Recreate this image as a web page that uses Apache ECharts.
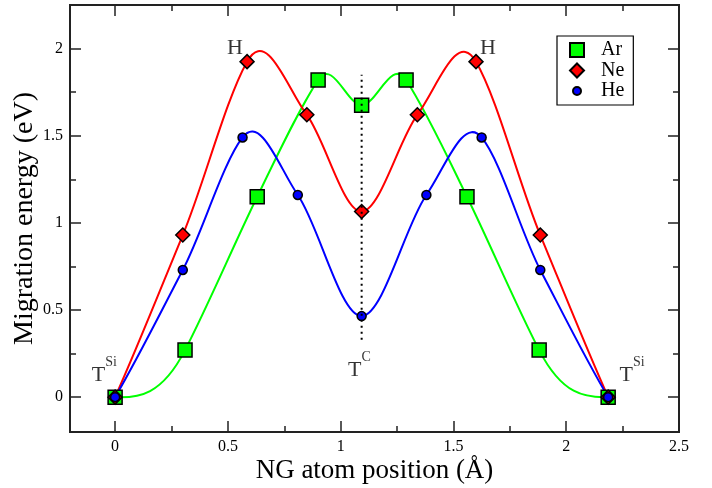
<!DOCTYPE html>
<html>
<head>
<meta charset="utf-8">
<script src="https://cdn.jsdelivr.net/npm/echarts@6/dist/echarts.min.js"></script>
<style>
  html, body { margin: 0; padding: 0; background: #fff; }
  #chart { width: 712px; height: 488px; }
</style>
</head>
<body>
<div id="chart"></div>
<script>
// migration path data, position in Å, energy in eV
const arX = [0, 0.31, 0.63, 0.90, 1.093, 1.29, 1.56, 1.88, 2.186];
const arY = [0, 0.27, 1.15, 1.82, 1.675, 1.82, 1.15, 0.27, 0];
const neX = [0, 0.30, 0.585, 0.85, 1.093, 1.34, 1.60, 1.885, 2.186];
const neY = [0, 0.93, 1.925, 1.62, 1.065, 1.62, 1.925, 0.93, 0];
const heX = [0, 0.30, 0.565, 0.81, 1.093, 1.38, 1.625, 1.885, 2.186];
const heY = [0, 0.73, 1.49, 1.16, 0.465, 1.16, 1.49, 0.73, 0];

// dotted guide through the T^C site
const tcX = [1.093, 1.093];
const tcY = [0.33, 1.85];

// site labels
const siteText = ["{b|H}", "{b|H}", "{t|T}{s|Si}", "{t|T}{s|Si}", "{t|T}{s|C}"];
const siteX = [0.531, 1.653, -0.048, 2.292, 1.083];
const siteY = [2.002, 2.002, 0.151, 0.151, 0.18];

// ticks
const xMajor = [0, 0.5, 1, 1.5, 2, 2.5];
const xMinor = [0.25, 0.75, 1.25, 1.75, 2.25];
const yMajor = [0, 0.5, 1, 1.5, 2];
const yMinor = [0.25, 0.75, 1.25, 1.75];

const font = "'Liberation Serif', 'Times New Roman', serif";
const zip = (xs, ys) => xs.map((x, i) => [x, ys[i]]);

const chart = echarts.init(document.getElementById("chart"));

// one helper for the plain tick axes (top/right mirrors and minor ticks)
const tickAxis = (position, min, max, ticks, len, labels) => ({
  type: "value",
  position: position,
  min: min,
  max: max,
  splitLine: { show: false },
  axisLine: { show: false, onZero: false },
  axisTick: {
    show: true,
    inside: true,
    length: len,
    customValues: ticks,
    lineStyle: { color: "#222", width: 1.5 },
  },
  axisLabel: labels
    ? {
        show: true,
        customValues: ticks,
        color: "#000",
        fontFamily: font,
        fontSize: 16,
        margin: 7,
      }
    : { show: false },
});

const xMain = tickAxis("bottom", -0.2, 2.5, xMajor, 11, true);
xMain.name = "NG atom position (Å)";
xMain.nameLocation = "middle";
xMain.nameGap = 25;
xMain.nameMoveOverlap = false;
xMain.nameTextStyle = { fontFamily: font, fontSize: 27, color: "#000" };

const yMain = tickAxis("left", -0.2, 2.25, yMajor, 11, true);
yMain.name = "Migration energy (eV)";
yMain.nameLocation = "middle";
yMain.nameGap = 31;
yMain.nameMoveOverlap = false;
yMain.nameTextStyle = { fontFamily: font, fontSize: 28, color: "#000" };

// Akima-type curve through the points (as the original plot draws it),
// each data item draws the segment to the next point
const akimaSeries = (name, xs, ys, color) => ({
  name: name,
  type: "custom",
  z: 1,
  data: zip(xs, ys),
  renderItem: (params, api) => {
    const i = params.dataIndex;
    const n = xs.length;
    if (i >= n - 1) return null;
    const p = xs.map((x, k) => api.coord([x, ys[k]]));
    // segment slopes with two extra on each end, offset by 2
    const m = [];
    for (let k = 0; k < n - 1; k++) m[k + 2] = (p[k + 1][1] - p[k][1]) / (p[k + 1][0] - p[k][0]);
    m[1] = 2 * m[2] - m[3];
    m[0] = 2 * m[1] - m[2];
    m[n + 1] = 2 * m[n] - m[n - 1];
    m[n + 2] = 2 * m[n + 1] - m[n];
    const slope = (k) => {
      const w1 = Math.abs(m[k + 3] - m[k + 2]);
      const w2 = Math.abs(m[k + 1] - m[k]);
      if (w1 + w2 < 1e-9) return (m[k + 1] + m[k + 2]) / 2;
      return (w1 * m[k + 1] + w2 * m[k + 2]) / (w1 + w2);
    };
    const hh = (p[i + 1][0] - p[i][0]) / 3;
    return {
      type: "bezierCurve",
      shape: {
        x1: p[i][0], y1: p[i][1],
        cpx1: p[i][0] + hh, cpy1: p[i][1] + hh * slope(i),
        cpx2: p[i + 1][0] - hh, cpy2: p[i + 1][1] - hh * slope(i + 1),
        x2: p[i + 1][0], y2: p[i + 1][1],
      },
      style: { stroke: color, lineWidth: 2, fill: null },
    };
  },
});

const markerSeries = (name, xs, ys, symbol, size, color) => ({
  name: name,
  type: "line",
  z: 3,
  data: zip(xs, ys),
  symbol: symbol,
  symbolSize: size,
  lineStyle: { width: 0, opacity: 0 },
  itemStyle: { color: color, borderColor: "#000", borderWidth: 1.5 },
});

const option = {
  animation: false,
  backgroundColor: "#fff",
  grid: {
    left: 70,
    right: 33,
    top: 5,
    bottom: 56,
    outerBoundsMode: "none",
    show: true,
    borderColor: "#222",
    borderWidth: 2,
    backgroundColor: "transparent",
  },
  xAxis: [
    xMain,
    tickAxis("bottom", -0.2, 2.5, xMinor, 6, false),
    tickAxis("top", -0.2, 2.5, xMajor, 11, false),
    tickAxis("top", -0.2, 2.5, xMinor, 6, false),
  ],
  yAxis: [
    yMain,
    tickAxis("left", -0.2, 2.25, yMinor, 6, false),
    tickAxis("right", -0.2, 2.25, yMajor, 11, false),
    tickAxis("right", -0.2, 2.25, yMinor, 6, false),
  ],
  legend: {
    left: 557,
    top: 36,
    orient: "vertical",
    borderColor: "#000",
    borderWidth: 1.2,
    padding: [4, 9, 4, 12],
    itemGap: 0.5,
    itemWidth: 14,
    itemHeight: 14,
    textStyle: {
      fontFamily: font,
      fontSize: 20,
      lineHeight: 20,
      color: "#000",
      padding: [0, 0, 0, 12],
    },
    data: [
      { name: "Ar", icon: "rect" },
      { name: "Ne", icon: "diamond" },
      { name: "He", icon: "path://M0,0M28,28M14,6A8,8,0,1,1,14,22A8,8,0,1,1,14,6Z" },
    ],
  },
  series: [
    akimaSeries("Ar curve", arX, arY, "#00ff00"),
    akimaSeries("Ne curve", neX, neY, "#ff0000"),
    akimaSeries("He curve", heX, heY, "#0000ff"),
    markerSeries("Ar", arX, arY, "rect", 14, "#00ff00"),
    markerSeries("Ne", neX, neY, "diamond", 14, "#ff0000"),
    markerSeries("He", heX, heY, "circle", 9, "#0000ff"),
    {
      name: "TC",
      type: "line",
      data: zip(tcX, tcY),
      symbol: "none",
      z: 5,
      lineStyle: { color: "#000", width: 2, type: [2, 4] },
    },
    {
      name: "sites",
      type: "scatter",
      symbolSize: 0,
      data: siteX.map((x, i) => ({ value: [x, siteY[i]], text: siteText[i] })),
      label: {
        show: true,
        position: "inside",
        formatter: (p) => p.data.text,
        color: "#000",
        fontFamily: font,
        rich: {
          b: { fontFamily: font, fontSize: 22, color: "#000" },
          t: { fontFamily: font, fontSize: 22, color: "#000", padding: [8, 0, 0, 0] },
          s: { fontFamily: font, fontSize: 14, color: "#000", lineHeight: 14, verticalAlign: "top" },
        },
      },
    },
  ],
};

chart.setOption(option);
</script>
</body>
</html>
